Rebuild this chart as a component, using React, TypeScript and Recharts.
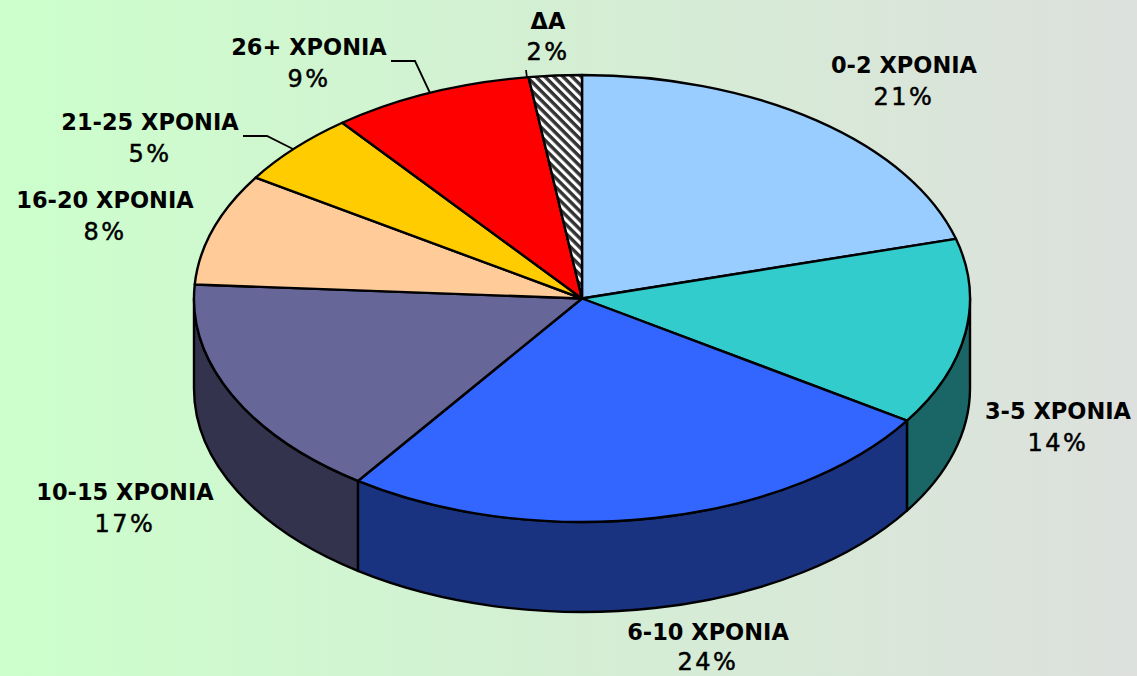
import React from 'react';
import { PieChart, Pie } from 'recharts';

const categories = ['0-2 ΧΡΟΝΙΑ', '3-5 ΧΡΟΝΙΑ', '6-10 ΧΡΟΝΙΑ', '10-15 ΧΡΟΝΙΑ', '16-20 ΧΡΟΝΙΑ', '21-25 ΧΡΟΝΙΑ', '26+ ΧΡΟΝΙΑ', 'ΔΑ'];
// slice sizes
const values = [20.7, 13.5, 25.6, 16.2, 8.1, 5.3, 8.4, 2.2];
const percentLabels = ['21%', '14%', '24%', '17%', '8%', '5%', '9%', '2%'];
const topColors = ['#99ccff', '#33cccc', '#3366ff', '#666699', '#ffcc99', '#ffcc00', '#ff0000', 'url(#hatch)'];
const wallColors = ['#4d6680', '#1a6666', '#1a3380', '#33334d', '#806633', '#806600', '#800000', '#444444'];

const data = categories.map((name, i) => ({ name, value: values[i], top: topColors[i], wall: wallColors[i], pct: percentLabels[i] }));

const W = 1137, H = 676, CX = 582, CY = 298.5, RX = 388, RY = 223.5, DEPTH = 90;
const ratio = RY / RX;
const rad = (d: number) => (d * Math.PI) / 180;
const pt = (cx: number, cy: number, r: number, a: number) => [cx + r * Math.cos(rad(a)), cy - r * ratio * Math.sin(rad(a))];

const TopShape = (p: any) => {
  const { cx, cy, outerRadius: r, startAngle: s, endAngle: e, payload } = p;
  const [x1, y1] = pt(cx, cy, r, s);
  const [x2, y2] = pt(cx, cy, r, e);
  const large = Math.abs(s - e) > 180 ? 1 : 0;
  const fill = payload?.top ?? p.top;
  return <path d={`M${cx},${cy} L${x1},${y1} A${r},${r * ratio} 0 ${large} 1 ${x2},${y2} Z`} fill={fill} stroke="#000" strokeWidth={2.4} strokeLinejoin="round" />;
};

const WallShape = (p: any) => {
  const { cx, cy, outerRadius: r, startAngle: s, endAngle: e, payload } = p;
  const a1 = Math.min(s, 0), a2 = Math.max(e, -180);
  if (a1 <= a2) return <g />;
  const [x1, y1] = pt(cx, cy, r, a1);
  const [x2, y2] = pt(cx, cy, r, a2);
  const ry = r * ratio;
  const fill = payload?.wall ?? p.wall;
  return <path d={`M${x1},${y1} A${r},${ry} 0 0 1 ${x2},${y2} L${x2},${y2 + DEPTH} A${r},${ry} 0 0 0 ${x1},${y1 + DEPTH} Z`} fill={fill} stroke="#000" strokeWidth={2.4} strokeLinejoin="round" />;
};

// label layout: centre x, y of the name line, y of the percent line
const labelLayout = [
  [904, 73, 105],
  [1058, 419, 451],
  [708, 640, 670],
  [125, 500, 532],
  [105, 208, 240],
  [150, 130, 162],
  [309, 55, 87],
  [548, 29, 60],
];
const leaders: Record<number, string> = {
  5: '243,136 267,136 293,149',
  6: '391,61 415,61 430,93',
  7: '526,70 527,78',
};

const renderLabel = (p: any) => {
  const i = p.index;
  const [x, y1, y2] = labelLayout[i];
  return (
    <g key={i}>
      {leaders[i] && <polyline points={leaders[i]} fill="none" stroke="#000" strokeWidth={1.8} />}
      <text x={x} y={y1} textAnchor="middle" fontFamily="'DejaVu Sans'" fontWeight={700} fontSize={22.5} fill="#000">{categories[i]}</text>
      <text x={x} y={y2} textAnchor="middle" fontFamily="'DejaVu Sans'" fontWeight={400} fontSize={24} letterSpacing={2.5} stroke="#000" strokeWidth={0.5} fill="#000">{percentLabels[i]}</text>
    </g>
  );
};

export default function App() {
  return (
    <div style={{ position: 'absolute', left: 0, top: 0, width: W, height: H, overflow: 'hidden', background: 'linear-gradient(to right, #ccffcc 0%, #d3f0d3 45%, #dde0dd 100%)' }}>
      <PieChart width={W} height={H} margin={{ top: 0, right: 0, bottom: 0, left: 0 }}>
        <defs>
          <pattern id="hatch" width="6.4" height="6.4" patternUnits="userSpaceOnUse" patternTransform="rotate(45)">
            <rect width="6.4" height="6.4" fill="#fff" />
            <rect width="6.4" height="3.4" fill="#333" />
          </pattern>
        </defs>
        <Pie data={data} dataKey="value" nameKey="name" cx={CX} cy={CY} outerRadius={RX} startAngle={90} endAngle={-270} isAnimationActive={false} shape={WallShape} label={false} labelLine={false} />
        <Pie data={data} dataKey="value" nameKey="name" cx={CX} cy={CY} outerRadius={RX} startAngle={90} endAngle={-270} isAnimationActive={false} shape={TopShape} label={renderLabel} labelLine={false} />
      </PieChart>
    </div>
  );
}
